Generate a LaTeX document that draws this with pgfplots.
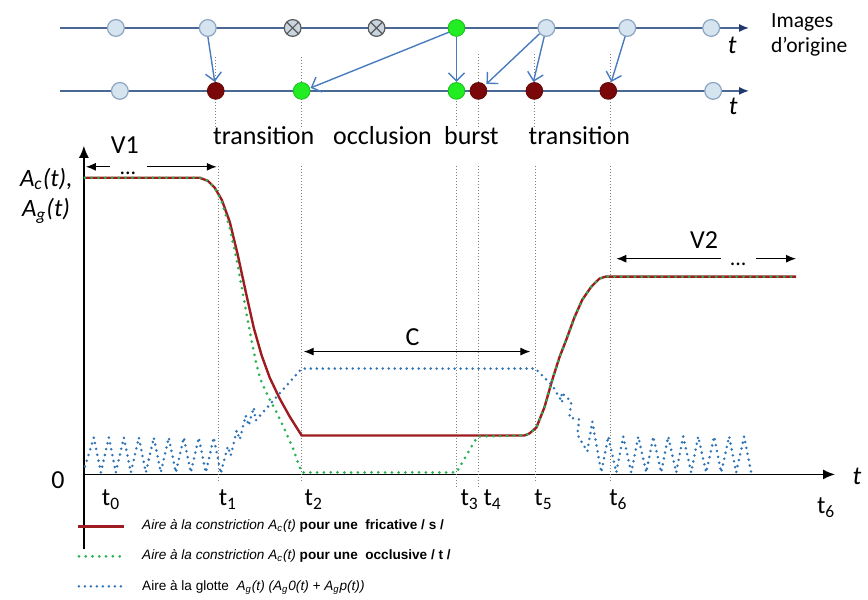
\documentclass[border=0pt]{standalone}
\usepackage{fontspec}
\setmainfont{Carlito}
\newfontfamily\arial{Liberation Sans}
\usepackage{pgfplots}
\pgfplotsset{compat=1.18}
\usetikzlibrary{arrows.meta}

\definecolor{tline}{RGB}{74,104,148}
\definecolor{tnavy}{RGB}{31,56,110}
\definecolor{darrow}{RGB}{72,124,190}
\definecolor{lightc}{RGB}{214,228,240}
\definecolor{lightd}{RGB}{140,165,195}
\definecolor{brightg}{RGB}{34,236,34}
\definecolor{darkr}{RGB}{122,8,8}
\definecolor{fric}{RGB}{158,27,32}
\definecolor{occl}{RGB}{40,178,80}
\definecolor{glot}{RGB}{46,116,181}

\begin{document}
\begin{tikzpicture}
\begin{axis}[
    scale only axis, width=434pt, height=300pt,
    xmin=0, xmax=868, ymin=0, ymax=600, y dir=reverse,
    hide axis, clip=false, unbounded coords=jump,
    every axis plot/.append style={forget plot},
]
\addplot[draw=none] coordinates {(0,0) (868,600)};

% ---- timelines
\addplot[tline, line width=0.8pt, -{Latex[length=5pt,width=4pt,color=tnavy]}] coordinates {(60,28) (750,28)};
\addplot[tline, line width=0.8pt, -{Latex[length=5pt,width=4pt,color=tnavy]}] coordinates {(60,91) (750,91)};

% dotted guides (top)
\addplot[gray, line width=0.5pt, densely dotted] coordinates {
    (216,57) (216,127) (nan,nan) (302,57) (302,127) (nan,nan)
    (457,95) (457,127) (nan,nan) (479,54) (479,127) (nan,nan)
    (535,54) (535,127) (nan,nan) (611,54) (611,127)};

% frame arrows
\addplot[darrow, line width=0.7pt, -{Straight Barb[length=4pt]}] coordinates {(208,36) (215,82)};
\addplot[darrow, line width=0.7pt, -{Straight Barb[length=4pt]}] coordinates {(450,32) (311,88)};
\addplot[darrow, line width=0.7pt, -{Straight Barb[length=4pt]}] coordinates {(457,37) (457,82)};
\addplot[darrow, line width=0.7pt, -{Straight Barb[length=4pt]}] coordinates {(541,33) (487,84)};
\addplot[darrow, line width=0.7pt, -{Straight Barb[length=4pt]}] coordinates {(545,36) (534,82)};
\addplot[darrow, line width=0.7pt, -{Straight Barb[length=4pt]}] coordinates {(626,36) (612,82)};

% frames
\addplot[only marks, mark=*, mark size=4.2pt, mark options={fill=lightc, draw=lightd, line width=0.6pt}]
    coordinates {(116,28) (208,28) (547,28) (628,28) (712,28) (120,91) (714,91)};
\addplot[only marks, mark=otimes*, mark size=4.2pt, mark options={fill=lightc!85!gray, draw=black!65, line width=0.6pt}]
    coordinates {(293,28) (377,28)};
\addplot[only marks, mark=*, mark size=4.2pt, mark options={fill=brightg, draw=brightg!80!black, line width=0.4pt}]
    coordinates {(457,28) (302,91) (457,91)};
\addplot[only marks, mark=*, mark size=4.2pt, mark options={fill=darkr, draw=darkr!80!black, line width=0.4pt}]
    coordinates {(216,91) (479,91) (535,91) (609,91)};

\node[font=\fontsize{13}{15}\selectfont\itshape] at (axis cs:733,45) {t};
\node[font=\fontsize{13}{15}\selectfont\itshape] at (axis cs:734,107) {t};
\node[anchor=west, font=\fontsize{10.8}{13}\selectfont] at (axis cs:765,22) {Images};
\node[anchor=west, font=\fontsize{10.8}{13}\selectfont] at (axis cs:765,47) {d’origine};

\node[font=\fontsize{13}{15}\selectfont] at (axis cs:264,136) {transition};
\node[font=\fontsize{13}{15}\selectfont] at (axis cs:383,136) {occlusion};
\node[font=\fontsize{13}{15}\selectfont] at (axis cs:472,136) {burst};
\node[font=\fontsize{13}{15}\selectfont] at (axis cs:580,136) {transition};

% ---- main axes
\addplot[black, line width=0.7pt, -{Latex[length=6pt,width=5pt]}] coordinates {(84,550) (84,146)};
\addplot[black, line width=0.7pt, -{Latex[length=6pt,width=5pt]}] coordinates {(84,475) (836,475)};

% dotted guides (main)
\addplot[gray, line width=0.5pt, densely dotted] coordinates {
    (219,166) (219,482) (nan,nan) (302,166) (302,482) (nan,nan)
    (457,166) (457,490) (nan,nan) (479,166) (479,490) (nan,nan)
    (536,166) (536,482) (nan,nan) (611,166) (611,482)};

% dimension arrows
\addplot[black, line width=0.6pt, -{Latex[length=5pt,width=4pt]}] coordinates {(110,167) (86,167)};
\addplot[black, line width=0.6pt, -{Latex[length=5pt,width=4pt]}] coordinates {(147,167) (217,167)};
\addplot[black, line width=0.6pt, {Latex[length=5pt,width=4pt]}-{Latex[length=5pt,width=4pt]}] coordinates {(304,352) (531,352)};
\addplot[black, line width=0.6pt, -{Latex[length=5pt,width=4pt]}] coordinates {(722,259) (617,259)};
\addplot[black, line width=0.6pt, -{Latex[length=5pt,width=4pt]}] coordinates {(757,259) (797,259)};
\node[inner sep=0pt, font=\fontsize{13}{15}\selectfont] at (axis cs:125,145) {V1};
\node[inner sep=0pt, font=\fontsize{11}{13}\selectfont] at (axis cs:128,174) {...};
\node[font=\fontsize{13}{15}\selectfont] at (axis cs:413,338) {C};
\node[inner sep=0pt, font=\fontsize{13}{15}\selectfont] at (axis cs:705,240) {V2};
\node[inner sep=0pt, font=\fontsize{11}{13}\selectfont] at (axis cs:739,265) {...};

% fricative /s/
\addplot[fric, line width=1.2pt] coordinates {
    (85,178) (200,178) (208,181) (215,188) (222,200) (230,222) (238,255)
    (246,292) (254,328) (262,356) (270,378) (280,399) (290,417) (302,436)
    (525,436) (530,434) (537,428) (545,408) (553,380) (560,358) (567,340)
    (575,318) (583,300) (592,287) (600,279) (606,277) (797,277)};

% occlusive /t/
\addplot[occl, line width=1.5pt, line cap=round, dash pattern=on 0pt off 3.4pt] coordinates {
    (85,178) (200,178) (208,181) (215,188) (222,202) (230,228) (238,265)
    (246,310) (254,352) (260,378) (268,396) (277,413) (285,430) (293,448)
    (302,473) (457,473) (478,437) (525,436) (530,434) (537,428) (545,408)
    (553,380) (560,358) (567,340) (575,318) (583,300) (592,287) (600,279)
    (606,277) (797,277)};

% glottis
\addplot[glot, line width=1.4pt, line cap=round, dash pattern=on 0pt off 3pt] coordinates {
    (85,467) (94,438) (101,473) (109,438) (116,473) (124,438) (131,473)
    (139,438) (146,473) (154,438) (161,473) (169,438) (176,473) (184,438)
    (191,473) (199,438) (206,473) (214,438) (221,474)
    (228,447) (231,456) (237,431) (240,440) (246,416) (249,426) (254,408)
    (256,421) (302,369) (536,369)
    (553,386) (563,403) (562,393) (572,402) (570,418) (580,420) (578,435)
    (588,452) (593,422) (602,473)
    (609,437) (617,473) (624,437) (632,473) (639,437) (647,473) (654,437)
    (662,473) (669,437) (677,473) (684,437) (692,473) (699,437) (707,473)
    (715,437) (722,473) (730,437) (737,473) (745,437) (752,473)};

% axis texts
\node[font=\fontsize{13}{15}\selectfont] at (axis cs:58,481) {0};
\node[font=\fontsize{13}{15}\selectfont] at (axis cs:858,477) {\itshape t};
\node[anchor=west, font=\fontsize{12.5}{14}\selectfont\itshape] at (axis cs:13,179) {A\textsubscript{c}(t),};
\node[anchor=west, font=\fontsize{12.5}{14}\selectfont\itshape] at (axis cs:15,211) {A\textsubscript{g}(t)};
\node[anchor=west, font=\fontsize{12.5}{14}\selectfont] at (axis cs:95,500) {t\textsubscript{0}};
\node[anchor=west, font=\fontsize{12.5}{14}\selectfont] at (axis cs:212,500) {t\textsubscript{1}};
\node[anchor=west, font=\fontsize{12.5}{14}\selectfont] at (axis cs:298,500) {t\textsubscript{2}};
\node[anchor=west, font=\fontsize{12.5}{14}\selectfont] at (axis cs:454,500) {t\textsubscript{3}};
\node[anchor=west, font=\fontsize{12.5}{14}\selectfont] at (axis cs:477,500) {t\textsubscript{4}};
\node[anchor=west, font=\fontsize{12.5}{14}\selectfont] at (axis cs:528,500) {t\textsubscript{5}};
\node[anchor=west, font=\fontsize{12.5}{14}\selectfont] at (axis cs:603,500) {t\textsubscript{6}};
\node[anchor=west, font=\fontsize{12.5}{14}\selectfont] at (axis cs:811,508) {t\textsubscript{6}};

% legend
\addplot[fric, line width=1.2pt] coordinates {(78,527) (124,527)};
\addplot[occl, line width=1.5pt, line cap=round, dash pattern=on 0pt off 3.4pt] coordinates {(79,557) (124,557)};
\addplot[glot, line width=1.4pt, line cap=round, dash pattern=on 0pt off 3pt] coordinates {(79,587) (124,587)};
\node[anchor=west, inner sep=0pt, font=\arial\fontsize{6.8}{8}\selectfont] at (axis cs:142,527)
    {{\itshape Aire à la constriction A\textsubscript{c}(t)} {\bfseries pour une \ fricative / s /}};
\node[anchor=west, inner sep=0pt, font=\arial\fontsize{6.8}{8}\selectfont] at (axis cs:142,557)
    {{\itshape Aire à la constriction A\textsubscript{c}(t)} {\bfseries pour une \ occlusive / t /}};
\node[anchor=west, inner sep=0pt, font=\arial\fontsize{6.8}{8}\selectfont] at (axis cs:142,588)
    {Aire à la glotte \ {\itshape A\textsubscript{g}(t) (A\textsubscript{g}0(t) + A\textsubscript{g}p(t))}};
\end{axis}
\end{tikzpicture}
\end{document}
